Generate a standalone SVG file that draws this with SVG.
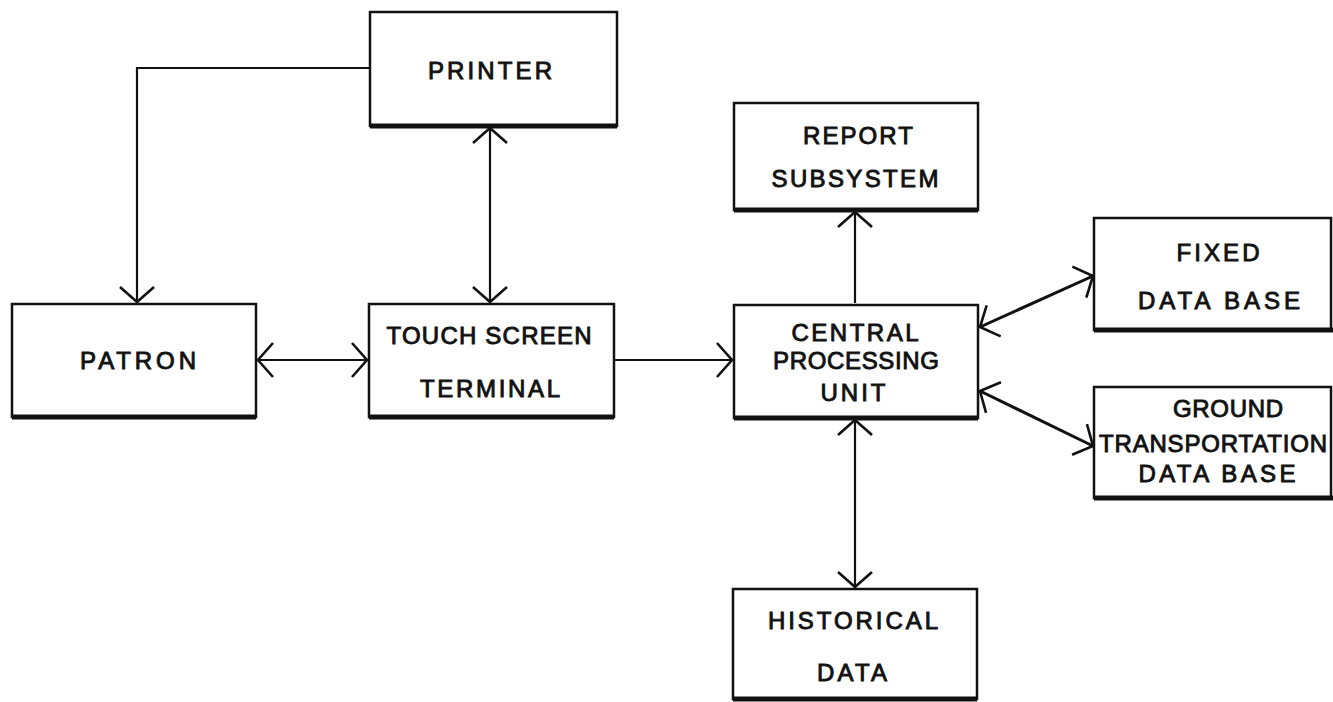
<svg xmlns="http://www.w3.org/2000/svg" width="1333" height="702" viewBox="0 0 1333 702">
<style>
.box{fill:#fff;stroke:#111;stroke-width:2.5}
.base{stroke:#111;stroke-width:5;fill:none}
.lbl{font-family:"Liberation Sans",Arial,sans-serif;font-size:24px;fill:#111;stroke:#111;stroke-width:0.9;text-anchor:middle}
.con{fill:none;stroke:#111;stroke-width:2.2}
.thick{stroke-width:3}
</style>
<defs>
<marker id="ah" markerUnits="userSpaceOnUse" markerWidth="40" markerHeight="40" viewBox="-20 -20 40 40" refX="0" refY="0" orient="auto-start-reverse" overflow="visible">
<path d="M-15,-17 L0,0 L-15,17" fill="none" stroke="#111" stroke-width="2.6"/>
</marker>
</defs>
<rect width="1333" height="702" fill="#fff"/>
<g id="connectors">
<path class="con" d="M370,68 H137 V302" marker-end="url(#ah)"/>
<path class="con" d="M490,128 V302" marker-start="url(#ah)" marker-end="url(#ah)"/>
<path class="con" d="M258,360 H367" marker-start="url(#ah)" marker-end="url(#ah)"/>
<path class="con" d="M615,360 H732" marker-end="url(#ah)"/>
<path class="con" d="M855,303 V212" marker-end="url(#ah)"/>
<path class="con thick" d="M980,327 L1093,276" marker-start="url(#ah)" marker-end="url(#ah)"/>
<path class="con thick" d="M980,391 L1093,446" marker-start="url(#ah)" marker-end="url(#ah)"/>
<path class="con" d="M855,420 V587" marker-start="url(#ah)" marker-end="url(#ah)"/>
</g>
<g id="printer">
<rect class="box" x="370" y="12" width="247" height="114"/>
<line class="base" x1="370" y1="126" x2="617" y2="126"/>
<text class="lbl" x="490" y="79" textLength="124" lengthAdjust="spacing">PRINTER</text>
</g>
<g id="patron">
<rect class="box" x="12" y="304" width="244" height="113"/>
<line class="base" x1="12" y1="417" x2="256" y2="417"/>
<text class="lbl" x="138" y="369" textLength="116" lengthAdjust="spacing">PATRON</text>
</g>
<g id="touch">
<rect class="box" x="369" y="304" width="245" height="113"/>
<line class="base" x1="369" y1="417" x2="614" y2="417"/>
<text class="lbl" x="489" y="344" textLength="205" lengthAdjust="spacing">TOUCH SCREEN</text>
<text class="lbl" x="490" y="397" textLength="140" lengthAdjust="spacing">TERMINAL</text>
</g>
<g id="report">
<rect class="box" x="734" y="103" width="244" height="107"/>
<line class="base" x1="734" y1="210" x2="978" y2="210"/>
<text class="lbl" x="858" y="144" textLength="110" lengthAdjust="spacing">REPORT</text>
<text class="lbl" x="855" y="187" textLength="167" lengthAdjust="spacing">SUBSYSTEM</text>
</g>
<g id="cpu">
<rect class="box" x="734" y="305" width="244" height="113"/>
<line class="base" x1="734" y1="418" x2="978" y2="418"/>
<text class="lbl" x="855" y="341" textLength="127" lengthAdjust="spacing">CENTRAL</text>
<text class="lbl" x="856" y="369" textLength="166" lengthAdjust="spacing">PROCESSING</text>
<text class="lbl" x="853" y="401" textLength="65" lengthAdjust="spacing">UNIT</text>
</g>
<g id="fixed">
<rect class="box" x="1094" y="218" width="237" height="112"/>
<line class="base" x1="1094" y1="330" x2="1333" y2="330"/>
<text class="lbl" x="1218" y="261" textLength="83" lengthAdjust="spacing">FIXED</text>
<text class="lbl" x="1219" y="309" textLength="162" lengthAdjust="spacing">DATA  BASE</text>
</g>
<g id="ground">
<rect class="box" x="1094" y="387" width="237" height="111"/>
<line class="base" x1="1094" y1="498" x2="1333" y2="498"/>
<text class="lbl" x="1228" y="417" textLength="110" lengthAdjust="spacing">GROUND</text>
<text class="lbl" x="1213" y="452" textLength="228" lengthAdjust="spacing">TRANSPORTATION</text>
<text class="lbl" x="1217" y="482" textLength="157" lengthAdjust="spacing">DATA  BASE</text>
</g>
<g id="historical">
<rect class="box" x="733" y="589" width="244" height="110"/>
<line class="base" x1="733" y1="699" x2="977" y2="699"/>
<text class="lbl" x="853" y="629" textLength="170" lengthAdjust="spacing">HISTORICAL</text>
<text class="lbl" x="852" y="681" textLength="70" lengthAdjust="spacing">DATA</text>
</g>
</svg>
